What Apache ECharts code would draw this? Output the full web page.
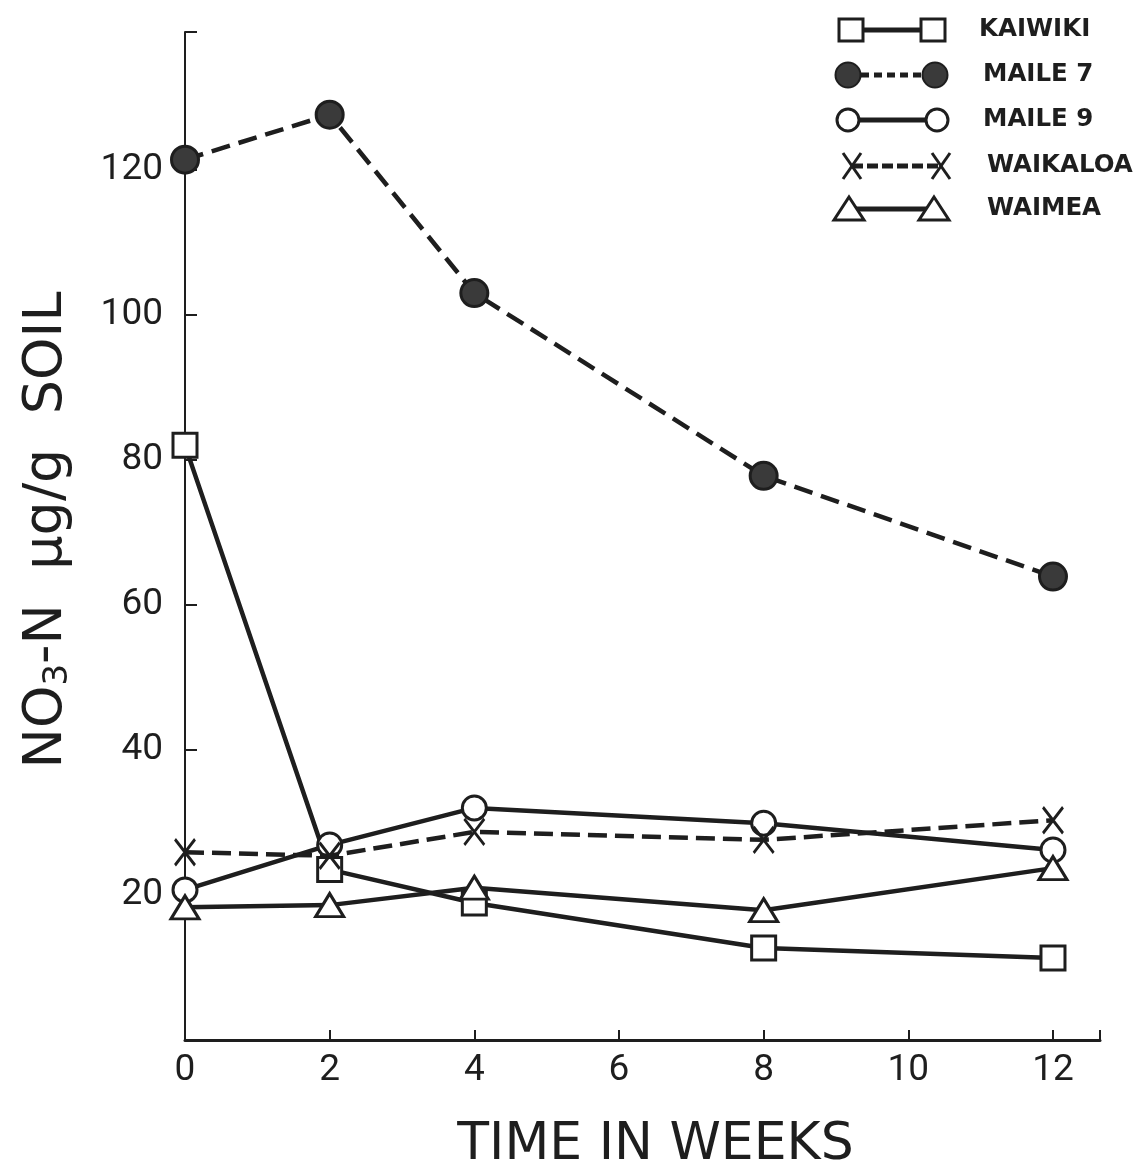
<!DOCTYPE html>
<html>
<head>
<meta charset="utf-8">
<script src="https://cdn.jsdelivr.net/npm/echarts@6/dist/echarts.min.js"></script>
<style>
html,body{margin:0;padding:0;background:#fff;overflow:hidden;}
#chart{width:1137px;height:1165px;}
</style>
</head>
<body>
<div id="chart"></div>
<script>
// ---- data ----
const weeks = [0, 2, 4, 8, 12];
const kaiwiki  = [82.0, 23.5, 18.9, 12.7, 11.3];
const maile7   = [121.4, 127.6, 103.0, 77.8, 63.9];
const maile9   = [20.7, 26.9, 32.0, 29.9, 26.2];
const waikaloa = [25.9, 25.4, 28.7, 27.6, 30.3];
const waimea   = [18.3, 18.6, 21.0, 17.9, 23.7];
const seriesNames = ['KAIWIKI', 'MAILE 7', 'MAILE 9', 'WAIKALOA', 'WAIMEA'];
const xTicks = [0, 2, 4, 6, 8, 10, 12];
const yTicks = [20, 40, 60, 80, 100, 120];

const INK = '#1e1e1e';
const X_PATH = 'path://M0,0 L10,13 M10,0 L0,13';

const styles = {
  'KAIWIKI':  {symbol: 'rect', fill: '#fff', dash: 'solid', size: 24},
  'MAILE 7':  {symbol: 'circle', fill: '#3a3a3a', dash: [19, 9], size: 27},
  'MAILE 9':  {symbol: 'circle', fill: '#fff', dash: 'solid', size: 24},
  'WAIKALOA': {symbol: X_PATH, fill: 'rgba(0,0,0,0)', dash: [19, 8], size: [20, 26]},
  'WAIMEA':   {symbol: 'triangle', fill: '#fff', dash: 'solid', size: [28, 23]}
};
const dataMap = {'KAIWIKI': kaiwiki, 'MAILE 7': maile7, 'MAILE 9': maile9, 'WAIKALOA': waikaloa, 'WAIMEA': waimea};

const series = seriesNames.map((n, i) => {
  const s = styles[n];
  return {
    name: n,
    type: 'line',
    data: weeks.map((w, j) => [w, dataMap[n][j]]),
    symbol: s.symbol,
    symbolSize: s.size,
    showAllSymbol: true,
    z: 2 + i,
    lineStyle: {color: INK, width: 4.5, type: s.dash, cap: 'butt'},
    itemStyle: {color: s.fill, borderColor: INK, borderWidth: 3},
    emphasis: {disabled: true},
    animation: false
  };
});

// legend font size: fit "WAIKALOA" to ~146px, capped
const LEGEND_FONT = '"DejaVu Sans", sans-serif';
const mctx = document.createElement('canvas').getContext('2d');
mctx.font = 'bold 100px ' + LEGEND_FONT;
const emW = mctx.measureText('WAIKALOA').width / 100;
const legendSize = Math.max(19, Math.min(25, 146 / emW));

// legend drawn as graphics
const legendRows = [30, 75, 120, 166, 209];
const legendLeft = [851, 848, 848, 852, 849];
const legendRight = [933, 935, 937, 941, 934];
const legendText = [979, 983, 983, 987, 987];
const legendGraphics = [];
seriesNames.forEach((n, i) => {
  const cy = legendRows[i];
  const x1 = legendLeft[i], x2 = legendRight[i];
  let dash = null;
  if (n === 'MAILE 7') dash = [8, 5];
  if (n === 'WAIKALOA') dash = [11, 4];
  legendGraphics.push({
    type: 'line', shape: {x1: x1, y1: cy, x2: x2, y2: cy},
    style: {stroke: INK, lineWidth: 5, lineDash: dash}, z: 10
  });
  [x1, x2].forEach(cx => {
    if (n === 'KAIWIKI') {
      legendGraphics.push({type: 'rect', shape: {x: cx - 12, y: cy - 11, width: 24, height: 22}, style: {fill: '#fff', stroke: INK, lineWidth: 3}, z: 11});
    } else if (n === 'MAILE 7') {
      legendGraphics.push({type: 'circle', shape: {cx: cx, cy: cy, r: 12.5}, style: {fill: '#3a3a3a', stroke: INK, lineWidth: 2}, z: 11});
    } else if (n === 'MAILE 9') {
      legendGraphics.push({type: 'circle', shape: {cx: cx, cy: cy, r: 11}, style: {fill: '#fff', stroke: INK, lineWidth: 3}, z: 11});
    } else if (n === 'WAIKALOA') {
      legendGraphics.push({type: 'polyline', shape: {points: [[cx - 9, cy - 13], [cx + 9, cy + 13]]}, style: {stroke: INK, lineWidth: 3}, z: 11});
      legendGraphics.push({type: 'polyline', shape: {points: [[cx + 9, cy - 13], [cx - 9, cy + 13]]}, style: {stroke: INK, lineWidth: 3}, z: 11});
    } else {
      legendGraphics.push({type: 'polygon', shape: {points: [[cx, cy - 12], [cx + 15, cy + 11], [cx - 15, cy + 11]]}, style: {fill: '#fff', stroke: INK, lineWidth: 3}, z: 11});
    }
  });
  legendGraphics.push({
    type: 'text', x: legendText[i], y: cy, z: 11,
    style: {text: n, fill: INK, font: 'bold ' + legendSize.toFixed(1) + 'px ' + LEGEND_FONT, verticalAlign: 'middle', textAlign: 'left'}
  });
});

const yName = 'NO{sub|3}-N  μg/g  SOIL';
const TITLE_FONT = '"DejaVu Sans", sans-serif';

const chart = echarts.init(document.getElementById('chart'), null, {renderer: 'canvas'});
chart.setOption({
  backgroundColor: '#fff',
  animation: false,
  grid: {left: 185, right: 37, top: 32, bottom: 125, containLabel: false, outerBoundsMode: 'none'},
  xAxis: {
    type: 'value', min: 0, max: 12.65, interval: 2,
    name: 'TIME IN WEEKS', nameLocation: 'middle', nameGap: 79,
    nameTextStyle: {fontSize: 52, color: INK, fontFamily: TITLE_FONT, fontWeight: 'normal', padding: [0, 0, 0, 26]},
    axisLine: {lineStyle: {color: INK, width: 3}},
    axisTick: {inside: true, length: 10, lineStyle: {color: INK, width: 2}},
    axisLabel: {
      margin: 12, fontSize: 37, color: INK, fontFamily: 'Roboto, "DejaVu Sans", sans-serif', fontWeight: 'normal',
      formatter: v => (xTicks.indexOf(v) >= 0 ? String(v) : '')
    },
    splitLine: {show: false}
  },
  yAxis: {
    type: 'value', min: 0, max: 139, interval: 20,
    name: yName, nameLocation: 'middle', nameGap: 110, nameRotate: 90,
    nameTextStyle: {
      fontSize: 54, color: INK, fontFamily: TITLE_FONT, fontWeight: 'normal', padding: [0, 0, 0, 12],
      rich: {sub: {fontSize: 34, color: INK, fontFamily: TITLE_FONT, verticalAlign: 'bottom', padding: [22, 0, 0, 0]}}
    },
    axisLine: {lineStyle: {color: INK, width: 2}},
    axisTick: {inside: true, length: 12, lineStyle: {color: INK, width: 2}},
    axisLabel: {
      margin: 22, fontSize: 37, color: INK, fontFamily: 'Roboto, "DejaVu Sans", sans-serif', fontWeight: 'normal',
      formatter: v => (yTicks.indexOf(v) >= 0 ? String(v) : '')
    },
    splitLine: {show: false}
  },
  series: series,
  graphic: legendGraphics
});
</script>
</body>
</html>
